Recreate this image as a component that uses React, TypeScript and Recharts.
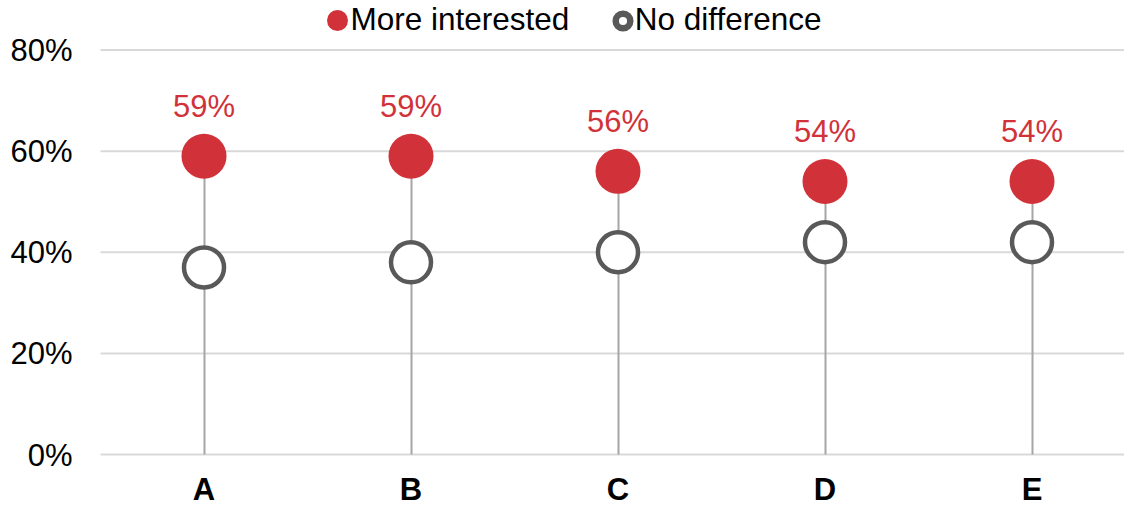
import React from "react";
import { ComposedChart, Bar, Scatter, XAxis, YAxis, CartesianGrid } from "recharts";

const categories = ["A", "B", "C", "D", "E"];
const moreInterested = [59, 59, 56, 54, 54];
const noDifference = [37, 38, 40, 42, 42];
const yTicks = [0, 20, 40, 60, 80];
const seriesNames = ["More interested", "No difference"];

const RED = "#d13239";
const GREY = "#595959";
const FONT = "'Liberation Sans', Arial, sans-serif";

const data = categories.map((name, i) => ({
  name,
  more: moreInterested[i],
  none: noDifference[i],
}));

const RedDot = (props: any) => {
  const { cx, cy, payload } = props;
  if (cx == null || cy == null) return null;
  return (
    <g>
      <circle cx={cx} cy={cy} r={22.5} fill={RED} />
      <text
        x={cx}
        y={cy - 39}
        textAnchor="middle"
        fill={RED}
        fontSize={31}
        fontFamily={FONT}
      >
        {payload.more}%
      </text>
    </g>
  );
};

const OpenDot = (props: any) => {
  const { cx, cy } = props;
  if (cx == null || cy == null) return null;
  return <circle cx={cx} cy={cy} r={20} fill="#ffffff" stroke={GREY} strokeWidth={4.5} />;
};

const LegendBox = () => (
  <div
    style={{
      position: "absolute",
      top: 0,
      left: 326.5,
      height: 41,
      display: "flex",
      alignItems: "center",
      fontFamily: FONT,
      fontSize: 31.5,
      color: "#000",
      whiteSpace: "nowrap",
    }}
  >
    <svg width={21} height={21} style={{ marginRight: 3 }}>
      <circle cx={10.5} cy={10.5} r={10.5} fill={RED} />
    </svg>
    <span style={{ position: "relative", top: -1 }}>{seriesNames[0]}</span>
    <svg width={22} height={22} style={{ marginLeft: 42.4, marginRight: 1 }}>
      <circle cx={11} cy={11} r={7.3} fill="#fff" stroke={GREY} strokeWidth={6.5} />
    </svg>
    <span style={{ position: "relative", top: -1 }}>{seriesNames[1]}</span>
  </div>
);

export default function App() {
  return (
    <div style={{ position: "absolute", left: 0, top: 0, width: 1124, height: 506, background: "#fff", overflow: "hidden" }}>
      <ComposedChart
        width={1124}
        height={506}
        data={data}
        margin={{ top: 50, right: -11.5, left: 0, bottom: 0 }}
      >
        <CartesianGrid vertical={false} stroke="#d9d9d9" strokeWidth={2} />
        <XAxis
          dataKey="name"
          axisLine={false}
          tickLine={false}
          height={51.5}
          tickMargin={17}
          tick={{ fill: "#000", fontSize: 31, fontWeight: "bold", fontFamily: FONT }}
        />
        <YAxis
          domain={[0, 80]}
          ticks={yTicks}
          axisLine={false}
          tickLine={false}
          width={100.5}
          tickMargin={22}
          tickFormatter={(v: number) => `${v}%`}
          tick={{ fill: "#000", fontSize: 31, fontFamily: FONT }}
        />
        <Bar dataKey="more" barSize={2} fill="#a6a6a6" isAnimationActive={false} />
        <Scatter dataKey="none" shape={<OpenDot />} isAnimationActive={false} />
        <Scatter dataKey="more" shape={<RedDot />} isAnimationActive={false} />
      </ComposedChart>
      <LegendBox />
    </div>
  );
}
